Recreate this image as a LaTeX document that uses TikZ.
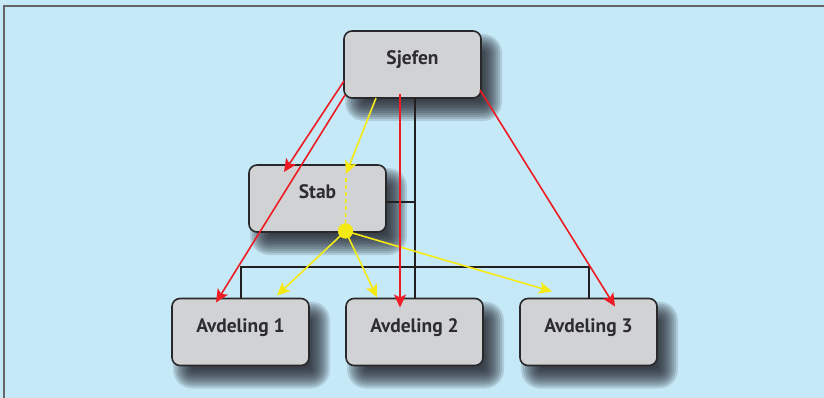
\documentclass[tikz,border=0pt]{standalone}
\usepackage{fontspec}
\setmainfont{PT Sans}
\usetikzlibrary{arrows.meta,calc}

\definecolor{bgblue}{RGB}{198,233,248}
\definecolor{framegray}{RGB}{100,101,105}
\definecolor{boxfill}{RGB}{209,210,212}
\definecolor{boxline}{RGB}{40,40,42}
\definecolor{textcol}{RGB}{45,45,48}
\definecolor{shadecol}{RGB}{28,30,38}
\definecolor{linkblack}{RGB}{35,31,32}
\definecolor{cmdred}{RGB}{237,28,36}
\definecolor{advyellow}{RGB}{245,234,20}

\pgfdeclarelayer{bgfill}
\pgfdeclarelayer{shade}
\pgfsetlayers{bgfill,shade,main}

\tikzset{
  box/.style={draw=boxline, line width=1.6pt, fill=boxfill, rounded corners=8pt,
    minimum width=137pt, minimum height=67pt, inner sep=0pt, outer sep=0pt,
    font=\bfseries\fontsize{19.5}{22}\selectfont, text=textcol,
    text height=5pt, text depth=5pt},
  orgline/.style={draw=linkblack, line width=2pt},
  cmdarrow/.style={draw=cmdred, line width=1.6pt,
    -{Stealth[length=13pt,width=12pt,inset=3pt]}},
  advarrow/.style={draw=advyellow, line width=1.6pt,
    -{Stealth[length=13pt,width=12pt,inset=3pt]}},
  hubdot/.style={circle, fill=advyellow, minimum size=15pt, inner sep=0pt}
}

% soft drop shadow behind a box, built from stacked translucent rectangles
\newcommand\dropshade[1]{%
  \begin{pgfonlayer}{shade}
    \foreach \e [evaluate=\e as \r using {max(1,9+\e)}] in {-10,-8,...,10} {
      \fill[shadecol, opacity=0.14, rounded corners=\r pt]
        ($(#1.north west)+(11-\e,13-\e)$) rectangle ($(#1.south east)+(11+\e,13+\e)$);
    }
  \end{pgfonlayer}}

\begin{document}
\begin{tikzpicture}[x=1pt,y=-1pt]
  \useasboundingbox (0,0) rectangle (824,398);
  \begin{pgfonlayer}{bgfill}
    \fill[bgblue] (0,0) rectangle (824,398);
    \draw[framegray, line width=2pt] (3.5,398) -- (3.5,6.5) -- (824,6.5);
  \end{pgfonlayer}

  % boxes
  \node[box] (sjefen) at (412.5,64.5) {Sjefen};
  \node[box] (stab)   at (317.5,198.5) {Stab};
  \node[box] (avd1)   at (240.5,332) {Avdeling 1};
  \node[box] (avd2)   at (414.5,332) {Avdeling 2};
  \node[box] (avd3)   at (588.5,332) {Avdeling 3};

  \dropshade{sjefen}
  \dropshade{stab}
  \dropshade{avd1}
  \dropshade{avd2}
  \dropshade{avd3}

  % formal organisation lines
  \coordinate (stabtap) at ($(stab.east)+(0,4)$);
  \draw[orgline] (sjefen.south -| avd2.north) -- (avd2.north);
  \draw[orgline] (stabtap) -- (stabtap -| avd2.north);
  \draw[orgline] (avd1.north) -- ++(0,-32) -| (avd3.north);

  % advisory (staff) links
  \coordinate (y1s) at ($(sjefen.south west)+(32,0)$);
  \coordinate (y1e) at ($(stab.north west)+(97,9)$);
  \coordinate (y1d) at ($(stab.north west)+(97,13)$);
  \node[hubdot] (hub) at (345.5,231) {};
  \draw[advarrow] (y1s) -- (y1e);
  \draw[draw=advyellow, line width=1.6pt, dash pattern=on 4pt off 3pt] (y1d) -- (hub.center);
  \coordinate (y2e) at ($(avd1.north west)+(105,-3)$);
  \coordinate (y3e) at ($(avd2.north west)+(31,-1)$);
  \coordinate (y4e) at ($(avd3.north west)+(32,-7)$);
  \draw[advarrow] (hub.center) -- (y2e);
  \draw[advarrow] (hub.center) -- (y3e);
  \draw[advarrow] (hub.center) -- (y4e);
  \node[hubdot] at (hub) {};

  % command links
  \coordinate (r1s) at ($(sjefen.north west)+(0,50)$);
  \coordinate (r1e) at ($(stab.north west)+(35,7)$);
  \coordinate (r2s) at ($(sjefen.north west)+(1,64)$);
  \coordinate (r2e) at ($(avd1.north west)+(44,4)$);
  \coordinate (r3s) at ($(sjefen.north west)+(56,63)$);
  \coordinate (r3e) at ($(avd2.north west)+(54,9)$);
  \coordinate (r4s) at ($(sjefen.north east)+(-1,59)$);
  \coordinate (r4e) at ($(avd3.north west)+(95,8)$);
  \draw[cmdarrow] (r1s) -- (r1e);
  \draw[cmdarrow] (r2s) -- (r2e);
  \draw[cmdarrow] (r3s) -- (r3e);
  \draw[cmdarrow] (r4s) -- (r4e);
\end{tikzpicture}
\end{document}
